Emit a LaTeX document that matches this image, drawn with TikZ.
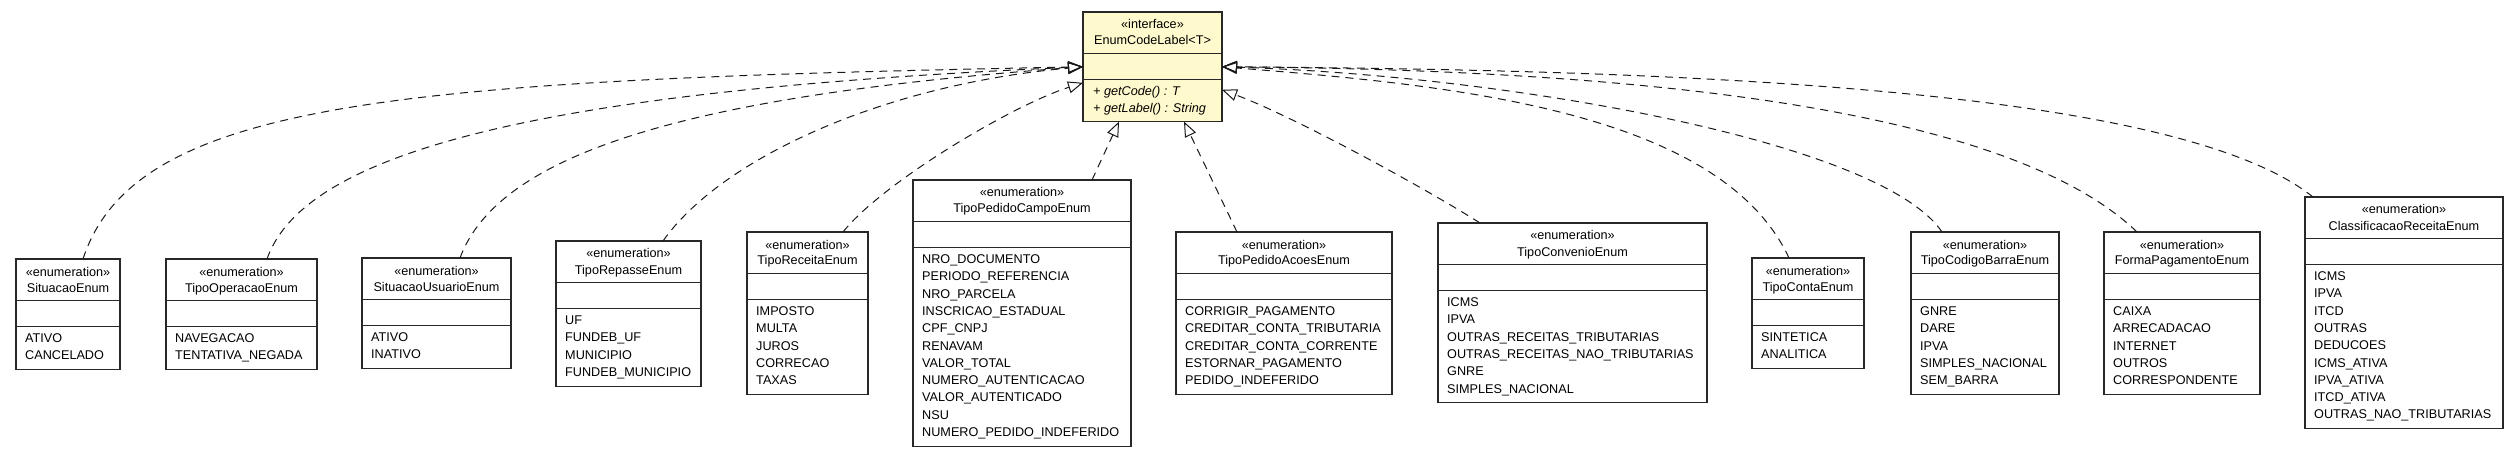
\documentclass[tikz,border=0pt]{standalone}
\usepackage{fontspec}
\setmainfont{Liberation Sans}
\usetikzlibrary{arrows.meta,calc}
\definecolor{ifill}{RGB}{255,250,205}
\definecolor{lnc}{RGB}{40,40,40}
\tikzset{
  umlbox/.style={draw=lnc, line width=1.1pt, inner sep=0pt, outer sep=0pt, anchor=north west},
  divline/.style={draw=lnc, line width=1.4pt},
  txt/.style={inner sep=0pt, font=\fontsize{12.66}{17.3}\selectfont},
  itxt/.style={inner sep=0pt, font=\fontsize{12.66}{17.3}\selectfont\itshape},
  realiz/.style={draw=black!90, line width=1pt, dash pattern=on 8pt off 6pt, -{Triangle[open,length=15pt,width=12pt]}},
}
\newcommand\enumbox[7]{%
  \pgfmathsetmacro\bw{#3-#2}%
  \pgfmathsetmacro\bh{76+17.3*#6}%
  \node[umlbox, minimum width=\bw pt, minimum height=\bh pt] (#1) at (#2,#4) {};
  \draw[divline] ([yshift=-41.5pt]#1.north west) -- ([yshift=-41.5pt]#1.north east);
  \draw[divline] ([yshift=-67.5pt]#1.north west) -- ([yshift=-67.5pt]#1.north east);
  \node[txt, anchor=base] at ([yshift=-17pt]#1.north) {«enumeration»};
  \node[txt, anchor=base] at ([yshift=-33pt]#1.north) {#5};
  \foreach \itm [count=\i from 0] in {#7} {
    \pgfmathsetmacro\yy{-(83.5+17.3*\i)}
    \node[txt, anchor=base west] at ([xshift=9pt, yshift=\yy pt]#1.north west) {\itm};
  }
}
\begin{document}
\begin{tikzpicture}[x=1pt,y=-1pt]
\fill[white] (0,0) rectangle (2519,457);
\useasboundingbox (0,0) rectangle (2519,457);

% interface
\node[umlbox, fill=ifill, minimum width=139pt, minimum height=109.6pt] (iface) at (1083,12) {};
\draw[divline] ([yshift=-41.5pt]iface.north west) -- ([yshift=-41.5pt]iface.north east);
\draw[divline] ([yshift=-67.5pt]iface.north west) -- ([yshift=-67.5pt]iface.north east);
\node[txt, anchor=base] at ([yshift=-17pt]iface.north) {«interface»};
\node[txt, anchor=base] at ([yshift=-33pt]iface.north) {EnumCodeLabel<T>};
\node[itxt, anchor=base west] at ([xshift=10pt, yshift=-83.5pt]iface.north west) {+ getCode() : T};
\node[itxt, anchor=base west] at ([xshift=10pt, yshift=-100.8pt]iface.north west) {+ getLabel() : String};

% enums
\enumbox{sit}{16}{120}{259}{SituacaoEnum}{2}{ATIVO,CANCELADO}
\enumbox{top}{166}{317}{259}{TipoOperacaoEnum}{2}{NAVEGACAO,TENTATIVA\_NEGADA}
\enumbox{sus}{362}{511}{258}{SituacaoUsuarioEnum}{2}{ATIVO,INATIVO}
\enumbox{rep}{556}{701}{241}{TipoRepasseEnum}{4}{UF,FUNDEB\_UF,MUNICIPIO,FUNDEB\_MUNICIPIO}
\enumbox{rec}{747}{868}{232}{TipoReceitaEnum}{5}{IMPOSTO,MULTA,JUROS,CORRECAO,TAXAS}
\enumbox{pcampo}{913}{1131}{180}{TipoPedidoCampoEnum}{11}{NRO\_DOCUMENTO,PERIODO\_REFERENCIA,NRO\_PARCELA,INSCRICAO\_ESTADUAL,CPF\_CNPJ,RENAVAM,VALOR\_TOTAL,NUMERO\_AUTENTICACAO,VALOR\_AUTENTICADO,NSU,NUMERO\_PEDIDO\_INDEFERIDO}
\enumbox{pacoes}{1176}{1392}{232}{TipoPedidoAcoesEnum}{5}{CORRIGIR\_PAGAMENTO,CREDITAR\_CONTA\_TRIBUTARIA,CREDITAR\_CONTA\_CORRENTE,ESTORNAR\_PAGAMENTO,PEDIDO\_INDEFERIDO}
\enumbox{conv}{1438}{1707}{223}{TipoConvenioEnum}{6}{ICMS,IPVA,OUTRAS\_RECEITAS\_TRIBUTARIAS,OUTRAS\_RECEITAS\_NAO\_TRIBUTARIAS,GNRE,SIMPLES\_NACIONAL}
\enumbox{conta}{1752}{1864}{258}{TipoContaEnum}{2}{SINTETICA,ANALITICA}
\enumbox{cbar}{1911}{2059}{232}{TipoCodigoBarraEnum}{5}{GNRE,DARE,IPVA,SIMPLES\_NACIONAL,SEM\_BARRA}
\enumbox{forma}{2104}{2260}{232}{FormaPagamentoEnum}{5}{CAIXA,ARRECADACAO,INTERNET,OUTROS,CORRESPONDENTE}
\enumbox{class}{2305}{2503}{197}{ClassificacaoReceitaEnum}{9}{ICMS,IPVA,ITCD,OUTRAS,DEDUCOES,ICMS\_ATIVA,IPVA\_ATIVA,ITCD\_ATIVA,OUTRAS\_NAO\_TRIBUTARIAS}

% connectors
\draw[realiz] ([xshift=15pt]sit.north) .. controls (135,100) and (400,80) .. (iface.west);
\draw[realiz] ([xshift=25.5pt]top.north) .. controls (305,150) and (550,90) .. (iface.west);
\draw[realiz] ([xshift=23.5pt]sus.north) .. controls (500,150) and (700,95) .. (iface.west);
\draw[realiz] ([xshift=34.5pt]rep.north) .. controls (720,160) and (880,85) .. (iface.west);
\draw[realiz] ([xshift=35.5pt]rec.north) .. controls (883,182) and (1013,105) .. ([yshift=-16pt]iface.west);
\draw[realiz] ([xshift=70pt]pcampo.north) -- ([xshift=-33.5pt]iface.south);
\draw[realiz] ([xshift=-47pt]pacoes.north) -- ([xshift=31.5pt]iface.south);
\draw[realiz] ([xshift=-92.5pt]conv.north) .. controls (1420,185) and (1290,115) .. ([yshift=-23pt]iface.east);
\draw[realiz] ([xshift=-19pt]conta.north) .. controls (1720,110) and (1450,85) .. (iface.east);
\draw[realiz] ([xshift=-43pt]cbar.north) .. controls (1880,140) and (1500,75) .. (iface.east);
\draw[realiz] ([xshift=-45pt]forma.north) .. controls (2010,110) and (1650,70) .. (iface.east);
\draw[realiz] ([xshift=-91pt]class.north) .. controls (2180,90) and (1700,70) .. (iface.east);
\end{tikzpicture}
\end{document}
